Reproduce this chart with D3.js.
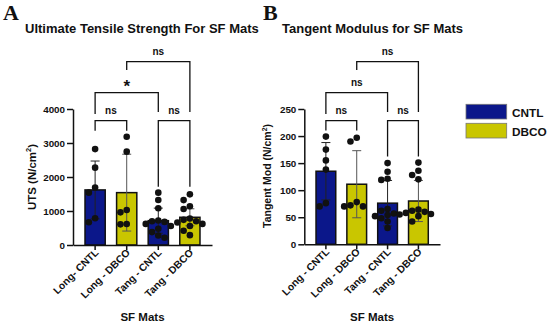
<!DOCTYPE html>
<html><head><meta charset="utf-8">
<script src="https://cdn.jsdelivr.net/npm/d3@7"></script>
<style>
body{margin:0;background:#fff}
svg text{font-family:"Liberation Sans",Arial,sans-serif;font-weight:bold;fill:#111}
</style></head>
<body><svg id="chart" width="550" height="326"></svg>
<script>
// data
var groupsA = ["Long- CNTL","Long - DBCO","Tang - CNTL","Tang - DBCO"]
var groupsB = ["Long - CNTL","Long - DBCO","Tang - CNTL","Tang - DBCO"]
var treatment = ["CNTL","DBCO","CNTL","DBCO"]
var utsMean = [1620,1540,715,815]
var utsSd = [850,1130,370,250]
var utsPoints = [
  [2820,2275,1690,1540,785,667],
  [3185,2745,1030,960,618,608],
  [1540,1325,1080,720,700,680,620,560,480,380,280,215],
  [1490,1320,1140,1060,780,740,700,660,620,560,420,290]]
var utsTicks = [0,1000,2000,3000,4000]
var modMean = [135,111,76,80]
var modSd = [53,62,42,38]
var modPoints = [
  [199,175,155,138,76,70],
  [197,190,78,72,70,70],
  [150,134,121,119,65,62,57,54,52,48,42,30],
  [151,136,128,120,64,62,60,58,56,55,52,42]]
var modTicks = [0,50,100,150,200,250]
var compsA = [[0,1,"ns"],[2,3,"ns"],[0,2,"*"],[1,3,"ns"]]
var compsB = [[0,1,"ns"],[2,3,"ns"],[0,2,"ns"],[1,3,"ns"]]
var legendKeys = ["CNTL","DBCO"]
var colors = {CNTL:"#0b178a", DBCO:"#c9c600"}

const svg = d3.select("#chart")
const r = 3.3

function panel(o){
  var g = svg.append("g")
  var x = d3.scaleBand().domain(o.groups).range([o.left,o.right]).paddingInner(0.36).paddingOuter(0.38)
  var y = d3.scaleLinear().domain([0,o.ticks[o.ticks.length-1]]).range([o.bottom,o.top])

  //bars
  g.selectAll(".bar").data(o.groups).enter().append("rect")
   .attr("x", d => x(d)).attr("width", x.bandwidth())
   .attr("y", (d,i) => y(o.mean[i])).attr("height", (d,i) => o.bottom - y(o.mean[i]))
   .attr("fill", (d,i) => colors[treatment[i]])
   .attr("stroke","#111").attr("stroke-width",1.5)

  //error bars
  o.groups.forEach(function(d,i){
    var cx = x(d) + x.bandwidth()/2
    var lo = y(o.mean[i]-o.sd[i]), hi = y(o.mean[i]+o.sd[i])
    var col = treatment[i]=="DBCO" ? "#555" : "#222"
    g.append("line").attr("x1",cx).attr("x2",cx).attr("y1",lo).attr("y2",hi).attr("stroke",col).attr("stroke-width",1)
    ;[lo,hi].forEach(function(yy){
      g.append("line").attr("x1",cx-4.5).attr("x2",cx+4.5).attr("y1",yy).attr("y2",yy).attr("stroke",col).attr("stroke-width",1)
    })
  })

  //points, simple beeswarm
  o.groups.forEach(function(d,i){
    var cx = x(d) + x.bandwidth()/2
    var placed = []
    var pts = o.points[i].slice().sort((a,b) => b-a)
    pts.forEach(function(v){
      var py = y(v)
      var steps = [0,-1,1,-2,2,-3,3]
      for (var k=0;k<steps.length;k++){
        var px = cx + steps[k]*2*r*0.95
        if (placed.every(p => Math.hypot(p[0]-px,p[1]-py) >= 2*r*0.9)) { placed.push([px,py]); break }
      }
    })
    g.selectAll(null).data(placed).enter().append("circle")
     .attr("cx", p => p[0]).attr("cy", p => p[1]).attr("r", r).attr("fill","#111")
  })

  //axes
  var xa = g.append("g").attr("transform","translate(0,"+o.bottom+")")
     .call(d3.axisBottom(x).tickSize(5).tickSizeOuter(0))
  xa.selectAll("text")
    .attr("font-size",10.3).attr("text-anchor","end")
    .attr("x",-3).attr("y",5).attr("dy","0.35em")
    .attr("transform","rotate(-45)")
  var ya = g.append("g").attr("transform","translate("+o.left+",0)")
     .call(d3.axisLeft(y).tickValues(o.ticks).tickFormat(d3.format("d")).tickSize(6).tickSizeOuter(0).tickPadding(2))
  ya.selectAll("text").attr("font-size",9.8)
  g.selectAll(".domain, .tick line").attr("stroke","#111").attr("stroke-width",1.5)

  //axis titles
  g.append("text").attr("x",(o.left+o.right)/2).attr("y",321).attr("text-anchor","middle")
   .attr("font-size",11.5).text("SF Mats")
  var yl = g.append("text").attr("transform","translate("+o.ylx+","+o.yly+") rotate(-90)")
   .attr("text-anchor","middle").attr("font-size",o.ylSize)
  yl.append("tspan").text(o.ylabel)
  yl.append("tspan").attr("font-size",o.ylSize*0.65).attr("dy",-o.ylSize*0.4).text("2")
  yl.append("tspan").attr("dy",o.ylSize*0.4).text(")")

  //title and panel letter
  g.append("text").attr("x",o.titleX).attr("y",33).attr("font-size",13).text(o.title)
  g.append("text").attr("x",o.letterX).attr("y",20).attr("font-size",22)
   .style("font-family","'Liberation Serif','Times New Roman',serif").text(o.letter)

  //significance brackets
  var cen = i => x(o.groups[i]) + x.bandwidth()/2
  o.comps.forEach(function(c,k){
    var x1 = cen(c[0]), x2 = cen(c[1])
    var yb, l1, l2
    if (k < 2){
      yb = 120.7
      var m = d3.max(o.points[c[0]].concat(o.points[c[1]]))
      l1 = l2 = Math.max(130, y(m) - 6)
    } else if (k == 2){
      yb = 92.7; l1 = 114; l2 = 112
    } else {
      yb = 61.7; l1 = 70; l2 = 112
    }
    g.append("path").attr("d","M"+x1+","+l1+"V"+yb+"H"+x2+"V"+l2)
     .attr("fill","none").attr("stroke","#111").attr("stroke-width",1.3)
    var t = g.append("text").attr("x",(x1+x2)/2).attr("text-anchor","middle").text(c[2])
    if (c[2]=="*") t.attr("y",yb-1.2).attr("font-size",17)
    else t.attr("y",yb-7).attr("font-size",10).attr("font-weight","normal")
  })
}

panel({groups:groupsA, mean:utsMean, sd:utsSd, points:utsPoints, ticks:utsTicks, comps:compsA,
       left:73, right:212, bottom:245, top:109, ylabel:"UTS (N/cm", ylx:36, yly:177, ylSize:11.5,
       title:"Ultimate Tensile Strength For SF Mats", titleX:25, letter:"A", letterX:3})
panel({groups:groupsB, mean:modMean, sd:modSd, points:modPoints, ticks:modTicks, comps:compsB,
       left:304.3, right:440, bottom:244.3, top:109, ylabel:"Tangent Mod (N/cm", ylx:271, yly:176, ylSize:10.5,
       title:"Tangent Modulus for SF Mats", titleX:282, letter:"B", letterX:263})

//legend
var leg = svg.append("g").selectAll("g").data(legendKeys).enter().append("g")
  .attr("transform",(d,i) => "translate(466,"+(104.3+i*19)+")")
leg.append("rect").attr("width",40.7).attr("height",14.7).attr("fill",d => colors[d]).attr("stroke","#777").attr("stroke-width",0.8)
leg.append("text").attr("x",46).attr("y",12.3).attr("font-size",11.8).text(d => d)
</script>
</body></html>
